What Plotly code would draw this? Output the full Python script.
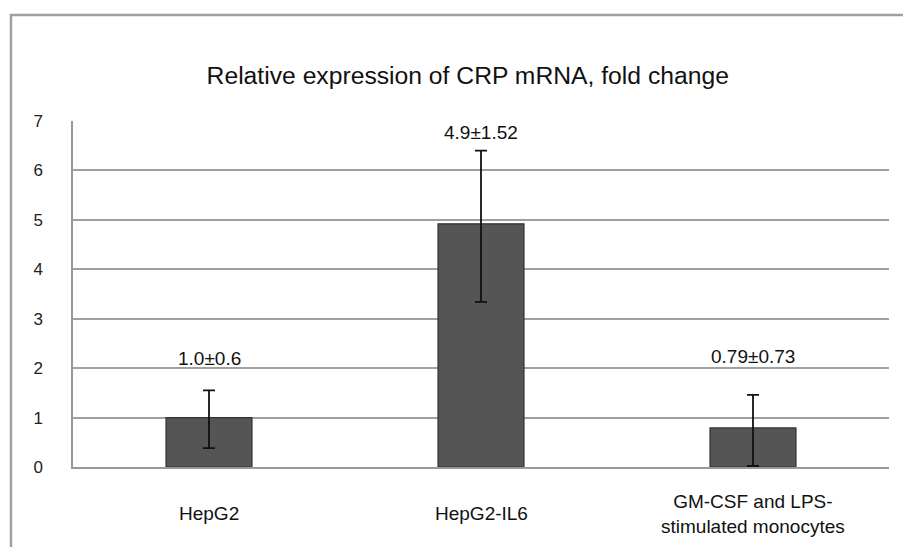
import plotly.graph_objects as go

categories = ["HepG2", "HepG2-IL6", "GM-CSF and LPS-<br>stimulated monocytes"]
values = [1.0, 4.92, 0.79]
err_plus = [0.55, 1.48, 0.67]
err_minus = [0.62, 1.58, 0.77]
value_labels = ["1.0±0.6", "4.9±1.52", "0.79±0.73"]
value_label_y = [2.19, 6.76, 2.23]
y_ticks = [0, 1, 2, 3, 4, 5, 6, 7]

FONT = "Liberation Sans, Arial, sans-serif"

fig = go.Figure()
fig.add_trace(go.Bar(
    x=categories, y=values, width=0.316,
    marker=dict(color="#555555", line=dict(color="#333333", width=1.2)),
    error_y=dict(type="data", symmetric=False, array=err_plus, arrayminus=err_minus,
                 color="#111111", thickness=1.8, width=6),
    showlegend=False, hoverinfo="skip",
))

for c, lab, yy in zip(categories, value_labels, value_label_y):
    fig.add_annotation(x=c, y=yy, text=lab, showarrow=False,
                       font=dict(family=FONT, size=19, color="#111111"),
                       xanchor="center", yanchor="middle")

for c in categories:
    fig.add_annotation(x=c, y=-0.135, yref="paper", text=c, showarrow=False,
                       font=dict(family=FONT, size=19, color="#111111"),
                       xanchor="center", yanchor="middle", align="center")

# outer chart frame
fig.add_shape(type="rect", xref="paper", yref="paper",
              x0=-0.076, x1=1.1, y0=-0.4, y1=1.306,
              line=dict(color="#a0a0a0", width=2.5), layer="below")

fig.update_layout(
    width=903, height=547,
    margin=dict(l=73, r=14, t=121, b=80),
    paper_bgcolor="white", plot_bgcolor="white",
    title=dict(text="Relative expression of CRP mRNA, fold change",
               x=0.518, xanchor="center", y=0.863, yanchor="middle",
               font=dict(family=FONT, size=24.7, color="#111111")),
    font=dict(family=FONT, color="#111111"),
    bargap=0.684,
    xaxis=dict(showticklabels=False, showline=True, linecolor="#999999", linewidth=1.5,
               showgrid=False, ticks="", zeroline=False),
    yaxis=dict(range=[0, 7], tickvals=y_ticks, showgrid=True, gridcolor="#a0a0a0",
               gridwidth=1.5, showline=True, linecolor="#999999", linewidth=1.5,
               zeroline=False, ticks="", ticklabelstandoff=25,
               tickfont=dict(family=FONT, size=17, color="#222222")),
)

fig.write_html("out.html")
